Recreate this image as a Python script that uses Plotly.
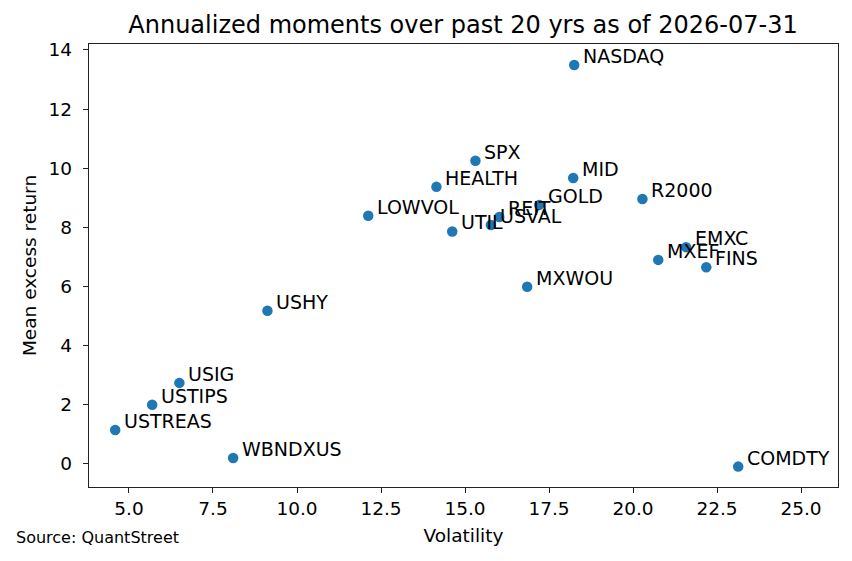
import plotly.graph_objects as go

# annualized vol / mean excess return (%)
tickers = [
    "NASDAQ", "SPX", "MID", "HEALTH", "R2000", "GOLD", "LOWVOL", "REIT",
    "USVAL", "UTIL", "EMXC", "MXEF", "FINS", "MXWOU", "USHY", "USIG",
    "USTIPS", "USTREAS", "WBNDXUS", "COMDTY",
]
volatility = [
    18.25, 15.31, 18.22, 14.15, 20.28, 17.21, 12.12, 16.02,
    15.77, 14.62, 21.58, 20.75, 22.18, 16.85, 9.12, 6.50,
    5.69, 4.59, 8.10, 23.13,
]
mean_excess = [
    13.49, 10.25, 9.67, 9.37, 8.96, 8.76, 8.39, 8.35,
    8.08, 7.86, 7.33, 6.90, 6.65, 5.99, 5.18, 2.74,
    2.00, 1.15, 0.20, -0.09,
]
as_of = "2026-07-31"
years = 20

FONT = "DejaVu Sans"
# page body has an 8px margin, so the figure is a bit smaller than the window
W, H = 844, 553
L, R, T, B = 81, 14, 36, 74

fig = go.Figure(
    go.Scatter(
        x=volatility,
        y=mean_excess,
        mode="markers",
        marker=dict(color="#1f77b4", size=10.5),
        hoverinfo="skip",
    )
)

# ticker labels next to each dot
annotations = [
    dict(
        x=vx,
        y=vy,
        text=name,
        showarrow=False,
        xanchor="left",
        yanchor="middle",
        xshift=7,
        yshift=9,
        font=dict(family=FONT, size=19, color="black"),
    )
    for name, vx, vy in zip(tickers, volatility, mean_excess)
]
annotations.append(
    dict(
        x=(6 - L) / (W - L - R),
        y=-(529 - (H - B)) / (H - T - B),
        xref="paper",
        yref="paper",
        text="Source: QuantStreet",
        showarrow=False,
        xanchor="left",
        yanchor="middle",
        font=dict(family=FONT, size=16, color="black"),
    )
)

axis_style = dict(
    showgrid=False,
    zeroline=False,
    showline=True,
    linecolor="#222222",
    linewidth=1.3,
    mirror=True,
    ticks="outside",
    ticklen=5,
    tickwidth=1.3,
    tickcolor="#222222",
    automargin=False,
    tickfont=dict(family=FONT, size=18.5, color="black"),
)

fig.update_layout(
    width=W,
    height=H,
    margin=dict(l=L, r=R, t=T, b=B),
    plot_bgcolor="white",
    paper_bgcolor="white",
    showlegend=False,
    title=dict(
        text="Annualized moments over past {} yrs as of {}".format(years, as_of),
        x=455 / W,
        xanchor="center",
        y=1 - 17 / H,
        yanchor="middle",
        font=dict(family=FONT, size=24, color="black"),
    ),
    xaxis=dict(
        range=[3.81, 26.1],
        tickvals=[5, 7.5, 10, 12.5, 15, 17.5, 20, 22.5, 25],
        ticktext=["5.0", "7.5", "10.0", "12.5", "15.0", "17.5", "20.0", "22.5", "25.0"],
        title=dict(text="Volatility", font=dict(family=FONT, size=18.5, color="black"), standoff=10),
        **axis_style,
    ),
    yaxis=dict(
        range=[-0.78, 14.2],
        tickvals=[0, 2, 4, 6, 8, 10, 12, 14],
        ticklabelstandoff=7,
        title=dict(text="Mean excess return", font=dict(family=FONT, size=18.5, color="black"), standoff=7),
        **axis_style,
    ),
    annotations=annotations,
)

fig.write_html("out.html")
